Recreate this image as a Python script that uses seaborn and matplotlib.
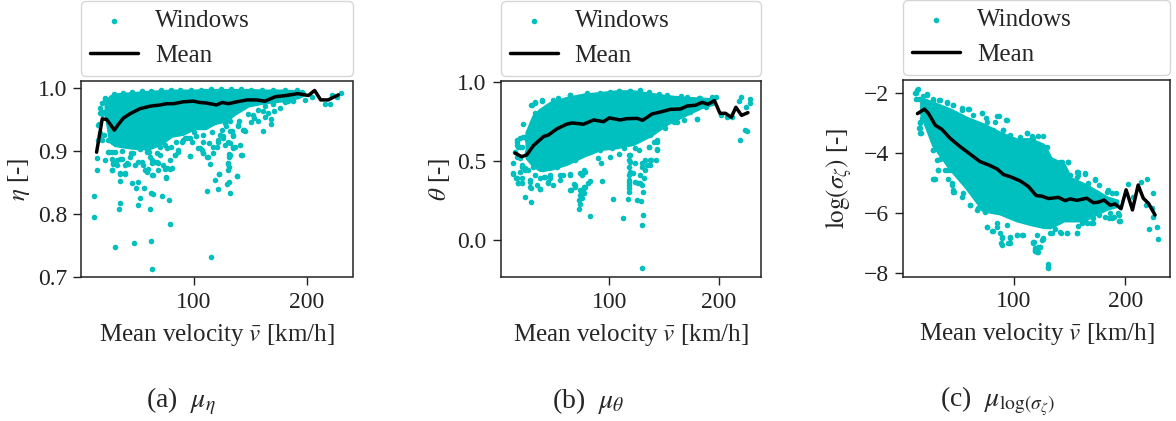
import matplotlib
matplotlib.use("Agg")
import matplotlib.pyplot as plt
import seaborn as sns

# values
# panel a
a_mean_v = [13.6, 18.6, 22.5, 25.4, 29.3, 32.8, 37.3, 43.2, 52, 61, 70, 76, 82, 90.5, 99.4, 105, 111, 120, 125, 130.5, 138, 147, 155.6, 163, 172, 182, 192, 201.5, 207, 212.4, 219, 228]
a_mean_y = [.898, .951, .950, .943, .933, .942, .952, .959, .967, .971, .973, .975, .975, .978, .979, .977, .976, .973, .977, .975, .978, .981, .981, .979, .986, .988, .991, .988, .996, .981, .981, .989]
# the solid part of the cloud: too many windows to read one by one, so its outline
a_env_v = [22, 26, 30, 45, 60, 70, 80, 90, 100, 110, 118, 128, 136, 148, 163, 178, 192, 197]
a_env_hi = [.975, .986, .989, .991, .993, .994, .995, .995, .995, .996, .996, .996, .996, .996, .995, .995, .994, .992]
a_env_lo = [.96, .915, .91, .906, .905, .912, .925, .928, .937, .937, .945, .949, .96, .973, .978, .981, .986, .99]
a_pts_v = [11.2, 10.9, 13.6, 14.2, 29.9, 47, 61.8, 63, 114.8, 78.4, 78, 71.3, 61.5, 63.3, 61.2, 50.3, 52, 48.5, 55.6, 44.7, 50.3, 34.3, 34.3, 39, 34.3, 33.7, 111.5, 121.3, 118.6, 121.9, 138.2, 132.2, 129, 130.8, 129.9, 131.4, 130.2, 114.2, 142, 131.4, 131.4, 111.8, 96.7, 117.2, 107.7, 105.3, 134.9, 140.8, 160.9, 144.7, 176.3, 168, 168, 157,
           27, 28.4, 31.4, 34.3, 41, 38.8, 21, 24, 27, 43.2, 46, 49, 50.6, 54.4, 56.5, 58.6, 63, 62.4, 65.4, 68.3, 72.8, 75.4, 76.3, 80.2, 78.7, 83.1, 85.9, 80, 74, 70, 58, 61, 67, 89, 93.5, 98, 102, 108, 113, 117, 121.6, 126, 132, 135, 139, 132, 148, 153, 161.5, 163,
           21, 24, 17, 18, 16, 16.6, 18, 15,
           216, 220.7, 230.2, 222, 226.6, 198.2, 204.4, 187.5, 180.7, 171.3, 150.6, 163, 166, 142.3, 132, 130, 122, 138.4,
           21, 18, 24, 16.6, 19.6, 15, 16.6, 20, 24, 25, 30, 27, 28.4, 27, 31.4, 35.8, 41.7, 34.4, 38.8, 47.7, 53.6, 58, 62.5, 67, 59.5, 64, 68.4, 74.3, 78.7, 75.2, 69.8, 86, 83, 75.8, 90.5, 96.5, 103.9, 106.8, 107.7, 112, 96.5,
           124.5, 127.5, 131.9, 139.3, 133.4, 134.9, 126, 121.6, 130.4, 120, 127.5, 134.9, 123, 143.7, 145.2, 136.3,
           29, 37, 45, 54, 62, 71, 80, 88, 97, 106, 115, 124, 133, 142, 151, 160, 170, 181, 191, 196,
           36, 44, 52, 60, 84, 92, 100, 108, 116, 128, 140, 152, 157, 170, 183]
a_pts_y = [.828, .795, .870, .889, .747, .754, .757, .713, .731, .784, .822, .829, .833, .832, .808, .815, .826, .841, .841, .849, .851, .852, .865, .865, .817, .808, .836, .839, .854, .864, .861, .834, .847, .851, .870, .875, .881, .879, .894, .895, .890, .891, .892, .896, .896, .904, .906, .91, .931, .933, .968, .943, .95, .947,
           .869, .881, .886, .888, .881, .878, .886, .899, .899, .891, .896, .907, .883, .878, .870, .866, .862, .881, .883, .881, .878, .858, .873, .873, .886, .894, .901, .907, .91, .907, .902, .891, .896, .915, .92, .915, .923, .915, .912, .907, .915, .923, .931, .923, .939, .912, .958, .952, .963, .971,
           .984, .981, .968, .958, .942, .929, .918, .918,
           .9746, .975, .9925, .989, .985, .981, .985, .98, .978, .964, .9455, .9535, .961, .894, .894, .880, .864, .861,
           .983, .976, .97, .96, .962, .941, .925, .925, .917, .899, .899, .888, .88, .87, .878, .888, .88, .864, .864, .878, .883, .899, .886, .883, .872, .862, .87, .872, .872, .857, .894, .899, .894, .904, .917, .92, .904, .902, .896, .891, .892,
           .933, .944, .947, .941, .931, .925, .92, .918, .915, .907, .909, .904, .925, .933, .931, .907,
           .99, .992, .993, .995, .995, .996, .996, .997, .997, .997, .998, .998, .998, .998, .997, .997, .996, .996, .996, .994,
           .90, .897, .903, .898, .915, .92, .93, .925, .93, .94, .948, .957, .965, .975, .979]

# panel b
b_mean_v = [14, 20, 24.7, 30.8, 40, 44.5, 52, 61, 66, 76.5, 85.7, 94.8, 100, 110, 116, 125.3, 130.5, 139, 146.6, 155.8, 165, 171, 178.7, 184.8, 190, 196, 201, 206, 211.3, 215.5, 220.7, 226.5]
b_mean_y = [.549, .526, .537, .596, .653, .663, .701, .731, .739, .731, .758, .747, .771, .758, .766, .768, .756, .796, .808, .825, .827, .846, .851, .869, .857, .88, .80, .80, .775, .838, .787, .804]
b_env_v = [25, 31, 37, 46, 61, 76.5, 92, 107, 122, 137.5, 153, 168, 183, 195]
b_env_hi = [.68, .78, .82, .862, .894, .915, .925, .936, .936, .92, .905, .895, .89, .885]
b_env_lo = [.52, .47, .445, .452, .484, .536, .578, .589, .61, .665, .74, .79, .84, .865]
b_pts_v = [129.9, 130.2, 131, 112.5, 82.6, 72.6, 73.5, 75, 76.5, 78, 82.6, 93.3, 103.4, 117, 125.3, 129, 29, 23.2, 65, 69, 67.4, 77, 72.6, 75,
           117.7, 117.7, 117.7, 117.7, 117.7, 119, 122, 127.7, 123.8, 126, 130, 131.4, 130.8, 128.4, 133, 137.5, 143, 130, 123.8, 119, 119, 138, 143.6, 136, 143.6, 219, 224, 225.3, 180, 228.4, 220.4, 218, 228.4, 224.8,
           12.5, 11.9, 15, 17, 20, 27.7, 28.3, 33.8, 37, 32.3, 40, 46, 49, 44.5, 55, 64, 58, 73.5, 78, 92, 90, 101, 108.5, 18.6, 15.5, 23, 20, 26,
           21.6, 29, 32, 38.4, 32, 15.5, 18.6, 23, 17, 20, 24.7, 26, 14,
           49, 64.3, 79.6, 91.8, 108.5, 119, 128.4, 136, 152.7, 171, 181.7, 194, 197,
           201.5, 207.6, 212, 188, 180, 194, 174, 168, 162,
           15.5, 21.6, 15.5, 18.6, 26, 24.7, 20, 23.1, 18.6, 12.5, 20, 15.5, 17, 27.7, 27.7, 36.9, 36.9, 41.4, 46, 44.5, 55.2, 64.3, 76.5, 75, 68.9, 64.3, 73.5, 76.5, 81, 73.5,
           30.8, 39.9, 52.1, 68.9, 75, 82.6, 91.8, 102.4, 113, 117.7, 117.7, 117.7, 119.2, 117.7,
           29.2, 32.3, 38.4, 53.6, 64.3, 100.9, 119.2, 108.5, 145, 165, 183,
           140.5, 136, 143.6, 123.8, 126.8, 143.6, 137.5, 133, 137.5, 134.5, 130, 180.2, 151, 158.9]
b_pts_y = [-.179, .093, .156, .137, .149, .196, .227, .263, .295, .337, .373, .373, .259, .261, .253, .248, .238, .272, .316, .337, .352, .326, .253, .316,
           .305, .326, .347, .368, .41, .43, .421, .41, .368, .358, .347, .389, .305, .362, .442, .474, .505, .484, .484, .537, .495, .505, .568, .589, .621, .632, .695, .69, .764, .888, .905, .88, .863, .838,
           .484, .421, .394, .362, .362, .368, .326, .347, .322, .41, .4, .41, .347, .358, .379, .41, .41, .421, .432, .484, .516, .526, .543, .516, .526, .442, .463, .442,
           .733, .853, .863, .88, .8, .621, .642, .653, .59, .59, .632, .684, .558,
           .884, .916, .926, .93, .941, .941, .947, .937, .916, .905, .895, .905, .90,
           .789, .779, .779, .842, .832, .863, .811, .758, .747,
           .631, .652, .6, .589, .6, .557, .473, .452, .431, .416, .393, .389, .362, .379, .337, .389, .322, .4, .389, .368, .41, .414, .442, .41, .347, .315, .315, .337, .358, .284,
           .458, .446, .459, .505, .536, .557, .568, .579, .579, .536, .505, .463, .421, .379,
           .852, .873, .883, .894, .915, .936, .942, .942, .925, .909, .894,
           .62, .589, .572, .578, .568, .631, .662, .505, .505, .473, .463, .763, .705, .747]

# panel c
c_mean_v = [13.2, 19.5, 23, 29.3, 35, 42.5, 51.5, 60.5, 69.5, 78.4, 85, 90.4, 96.4, 105.4, 112.9, 119.8, 124.9, 130.8, 139.8, 145.8, 150.3, 156.3, 165.3, 171.3, 175.7, 180.8, 186.2, 190.7, 196, 200.6, 206.3, 211.4, 216, 220.7, 226.6]
c_mean_y = [-2.69, -2.54, -2.68, -3.08, -3.21, -3.51, -3.79, -4.04, -4.29, -4.42, -4.54, -4.72, -4.79, -4.93, -5.12, -5.42, -5.44, -5.52, -5.48, -5.59, -5.53, -5.58, -5.51, -5.66, -5.64, -5.57, -5.74, -5.7, -5.86, -5.23, -5.9, -5.07, -5.51, -5.68, -6.07]
c_env_v = [17, 27.6, 42.5, 57.5, 72.5, 87.4, 102.4, 114.4, 126.4, 132.4, 144.4, 150.3, 162.3, 174.3, 183.3, 192.3]
c_env_hi = [-2.2, -2.35, -2.57, -2.85, -3.07, -3.35, -3.57, -3.55, -3.75, -4.18, -4.4, -4.85, -5.05, -5.3, -5.5, -5.6]
c_env_lo = [-2.7, -3.73, -4.5, -5.15, -5.9, -6.0, -6.23, -6.35, -6.45, -6.46, -6.23, -6.23, -6.23, -6.0, -5.84, -5.75]
c_pts_v = [12.9, 11.7, 15, 22.2, 27, 33.5, 39.5, 45.5, 53, 59, 62.9, 71, 75.4, 85, 93.4, 90.4, 112, 115.9, 126.3, 121.9, 129.3, 127.8, 135.3, 142.8, 148.8, 156.3, 157.8, 163.8, 172.8, 166.8, 183.2, 187.7, 202.7, 219.2, 213.8, 206.6, 218, 225, 223.7, 225, 221, 228.4, 229, 195.2, 193.7, 187.7, 181.7, 186.2, 171.3, 165.3, 156.3, 147.3, 141.3, 133.8, 126.3, 124.9, 121.9, 118.9, 118, 120.4, 123.4, 130.8, 130.8, 130.8,
           88.9, 89.5, 87.4, 94.9, 96.4, 102.4, 106.9, 84.4, 75.4, 79.9, 27.5, 29, 39.5, 32, 44, 45.5, 45.5, 60.5, 53, 66.5, 71, 27.5, 30.5, 16, 15.6, 17, 22.2, 15.6,
           14, 11.1, 12, 18, 22.2, 27.6, 33, 39.5, 45.5, 53, 59.6, 71, 74.9, 86, 92.8, 82.4, 81.5, 90.4, 96.4, 111.4, 105.4, 117.4,
           15.6, 15, 15.6, 27.6, 28.4, 32, 33.5, 38, 42.5, 41, 44, 46, 54.5, 60.5, 68, 74, 81.5, 76, 81.5, 88.3, 89, 96.4, 96.4, 102.4, 108.4, 84.5, 93.4, 117.4, 118.9, 121.9, 120.4,
           148.2, 141.4, 157.8, 163.8, 172.8, 175.8, 183.9, 191.7, 150.3, 156.3, 166.8, 168.9, 157.8, 161.4, 156.3, 147.3, 141.9, 136.9, 132.4, 125.8, 123.4, 118.9, 117.4, 185.4, 189.3, 193.8, 194.4, 171.3, 175.8]
c_pts_y = [-1.89, -2.01, -2.2, -2.06, -2.2, -2.23, -2.29, -2.4, -2.51, -2.54, -2.73, -2.68, -2.98, -2.77, -2.9, -3.23, -3.34, -3.43, -3.42, -3.43, -3.79, -4.01, -4.34, -4.29, -4.29, -4.62, -4.73, -4.68, -4.9, -5.12, -5.29, -5.34, -5.04, -4.88, -4.96, -5.46, -5.73, -5.34, -5.84, -6.12, -6.52, -6.48, -6.86, -6.26, -6.01, -6.18, -6.12, -6.01, -6.34, -6.34, -6.68, -6.68, -6.62, -6.68, -6.84, -6.9, -7.14, -7.26, -6.96, -7.29, -7.12, -7.7, -7.79, -7.84,
           -7.07, -6.84, -6.68, -7.01, -6.84, -6.73, -6.73, -6.46, -6.46, -6.59, -4.88, -4.88, -4.57, -4.57, -5.01, -5.23, -5.29, -5.73, -5.46, -5.9, -5.84, -3.9, -4.23, -3.34, -3.01, -2.84, -3.03, -3.18,
           -1.88, -2.01, -2.21, -2.1, -2.03, -2.26, -2.23, -2.34, -2.4, -2.57, -2.55, -2.68, -2.85, -2.76, -2.9, -2.96, -3.23, -3.23, -3.4, -3.34, -3.46, -3.51,
           -3.34, -3.18, -2.96, -3.9, -4.88, -4.57, -4.21, -4.57, -4.57, -4.88, -5.07, -5.29, -5.34, -5.73, -5.85, -5.96, -5.9, -6.46, -6.6, -7, -6.79, -7, -6.79, -6.73, -6.73, -6.34, -6.4, -7, -7.23, -7.29, -6.73,
           -4.31, -4.29, -4.62, -4.7, -4.88, -5.07, -5.23, -5.34, -4.73, -4.79, -5, -6.34, -6.42, -6.32, -6.66, -6.68, -6.66, -6.53, -6.68, -6.88, -7.12, -7.18, -6.96, -6.18, -6.12, -6.07, -6.27, -6.18, -6.07]

sns.set_style("ticks")
plt.rcParams["font.family"] = ["Liberation Serif"]
plt.rcParams["mathtext.fontset"] = "stix"
plt.rcParams["font.size"] = 18

W, H = 1176, 421
fig = plt.figure(figsize=(W / 100, H / 100), dpi=100)


def panel(box, pts_v, pts_y, env_v, env_hi, env_lo, mean_v, mean_y, xlim, ylim, yticks, ylabel, ylabel_x):
    left, top, right, bottom = box
    ax = fig.add_axes([left / W, 1 - bottom / H, (right - left) / W, (bottom - top) / H])
    ax.fill_between(env_v, env_lo, env_hi, color="c", linewidth=3, zorder=1)
    sns.scatterplot(x=pts_v, y=pts_y, color="c", s=16, linewidth=0, label="Windows", ax=ax, zorder=2)
    sns.lineplot(x=mean_v, y=mean_y, color="black", linewidth=2.5, estimator=None, sort=False, label="Mean", ax=ax, zorder=3)
    ax.set_xlim(xlim)
    ax.set_ylim(ylim)
    ax.set_xticks([100, 200])
    ax.set_yticks(yticks)
    ax.set_xlabel(r"Mean velocity $\bar{v}$ [km/h]", labelpad=6.5)
    ax.set_ylabel(ylabel)
    ax.yaxis.set_label_coords((ylabel_x - left) / (right - left), 0.5)
    ax.tick_params(length=5.5, width=1, colors="#222222", pad=5, labelsize=17)
    for s in ax.spines.values():
        s.set_linewidth(1.1)
        s.set_color("#222222")
    ax.legend(loc="lower left", bbox_to_anchor=(0, 1.025, 1, 0.38), mode="expand", borderaxespad=0,
              handlelength=1.9, handletextpad=0.68, labelspacing=0.5, borderpad=0.36, fontsize=18)
    return ax


panel((81.5, 81, 352.5, 277), a_pts_v, a_pts_y, a_env_v, a_env_hi, a_env_lo, a_mean_v, a_mean_y,
      (0.2, 240.6), (0.7, 1.011), [0.7, 0.8, 0.9, 1.0], r"$\eta$ [-]", 32)
panel((501, 81, 761.3, 277), b_pts_v, b_pts_y, b_env_v, b_env_hi, b_env_lo, b_mean_v, b_mean_y,
      (1.2, 238.7), (-0.234, 1.004), [0.0, 0.5, 1.0], r"$\theta$ [-]", 452)
panel((903.3, 80, 1170, 276.5), c_pts_v, c_pts_y, c_env_v, c_env_hi, c_env_lo, c_mean_v, c_mean_y,
      (0.5, 240), (-8.117, -1.57), [-8, -6, -4, -2], r"$\log(\sigma_\zeta)$ [-]", 854)

fig.text(181 / W, 1 - 401 / H, r"(a)  $\mu_\eta$", ha="center", va="center", fontsize=20)
fig.text(588 / W, 1 - 401 / H, r"(b)  $\mu_\theta$", ha="center", va="center", fontsize=20)
fig.text(997 / W, 1 - 401 / H, r"(c)  $\mu_{\log(\sigma_\zeta)}$", ha="center", va="center", fontsize=20)

fig.savefig("out.png", dpi=100)
